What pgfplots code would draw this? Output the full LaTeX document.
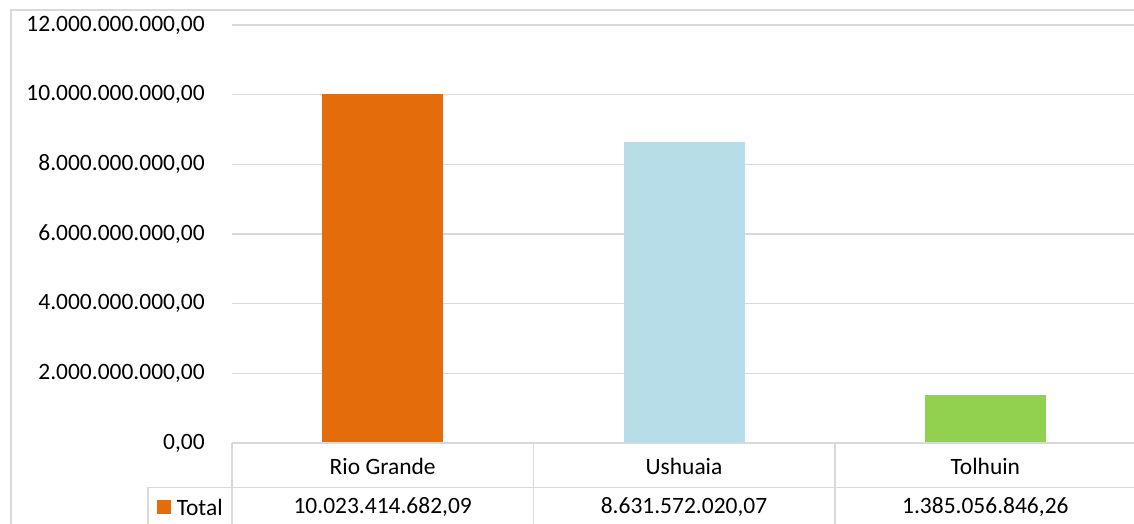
\documentclass[border=0pt]{standalone}
\usepackage{fontspec}
\setmainfont{Carlito}
\usepackage{pgfplots}
\pgfplotsset{compat=1.18}
\definecolor{rgorange}{HTML}{E46C0A}
\definecolor{ushblue}{HTML}{B7DEE8}
\definecolor{tolgreen}{HTML}{92D050}
\definecolor{gridgray}{HTML}{D9D9D9}
\begin{document}
\begin{tikzpicture}[font=\fontsize{17.6}{21}\selectfont]
\useasboundingbox (0,0) rectangle (850.5pt,393pt);
\begin{axis}[
  at={(174pt,60.75pt)}, anchor=south west,
  scale only axis, width=678pt, height=313.5pt,
  xmin=-0.5, xmax=2.5, ymin=0, ymax=12e9,
  ytick={0,2e9,4e9,6e9,8e9,10e9,12e9},
  xtick={0,1,2},
  xticklabels={Rio Grande,Ushuaia,Tolhuin},
  scaled y ticks=false,
  /pgf/number format/fixed,
  /pgf/number format/fixed zerofill,
  /pgf/number format/precision=2,
  /pgf/number format/1000 sep={.},
  /pgf/number format/dec sep={,},
  /pgf/number format/assume math mode=true,
  yticklabel style={anchor=east, inner sep=0pt, xshift=-20.25pt},
  xticklabel style={anchor=center, inner sep=0pt, yshift=-17.25pt},
  axis line style={draw=none},
  major tick length=0pt,
  ymajorgrids, grid style={gridgray, line width=1pt},
  ybar, bar width=90.75pt,
  clip=false,
]
\addplot[fill=rgorange, draw=none, bar shift=0pt] coordinates {(0,10023414682.09)};
\addplot[fill=ushblue, draw=none, bar shift=0pt] coordinates {(1,8631572020.07)};
\addplot[fill=tolgreen, draw=none, bar shift=0pt] coordinates {(2,1385056846.26)};
\node[inner sep=0pt, yshift=-48pt] at (axis cs:0,0) {10.023.414.682,09};
\node[inner sep=0pt, yshift=-48pt] at (axis cs:1,0) {8.631.572.020,07};
\node[inner sep=0pt, yshift=-48pt] at (axis cs:2,0) {1.385.056.846,26};
\end{axis}
% chart border and data table grid, in pixel coordinates from the top left
\begin{scope}[shift={(0,393pt)}, x=0.75pt, y=-0.75pt]
  \draw[gridgray, line width=1.5pt] (10.5,540) -- (10.5,10.5) -- (1140,10.5);
  \draw[gridgray, line width=1pt] (232,443) -- (1140,443);
  \draw[gridgray, line width=1pt] (148,487.5) -- (1140,487.5);
  \draw[gridgray, line width=1pt] (232,443) -- (232,540);
  \draw[gridgray, line width=1pt] (533.5,443) -- (533.5,540);
  \draw[gridgray, line width=1pt] (835,443) -- (835,540);
  \draw[gridgray, line width=1pt] (148,487.5) -- (148,540);
  \fill[rgorange] (157,500) rectangle (171,514);
  \node[anchor=west, inner sep=0pt] at (176.5,507) {Total};
\end{scope}
\end{tikzpicture}
\end{document}
